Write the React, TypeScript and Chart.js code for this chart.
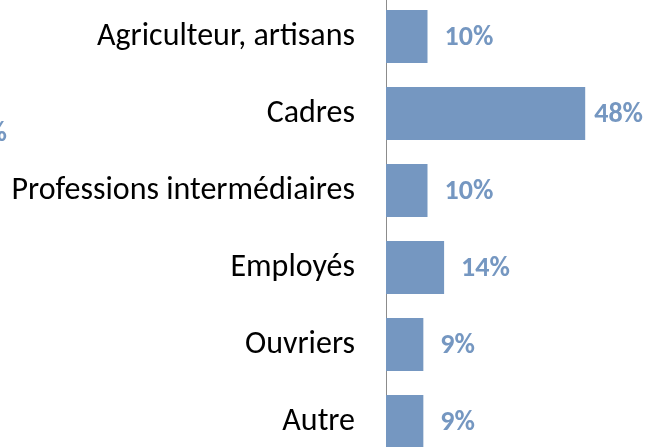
import React, { useEffect, useRef } from "react";
import { Chart, registerables } from "chart.js";

Chart.register(...registerables);

const categories = [
  "Agriculteur, artisans",
  "Cadres",
  "Professions intermédiaires",
  "Employés",
  "Ouvriers",
  "Autre",
];
const values = [10, 48, 10, 14, 9, 9];
const valueLabels = ["10%", "48%", "10%", "14%", "9%", "9%"];

const BAR_COLOR = "#7597c1";
const LABEL_COLOR = "#7597c1";

function hasFont(name: string): boolean {
  const c = document.createElement("canvas").getContext("2d")!;
  const s = "Professions intermédiaires 48%";
  c.font = "100px monospace";
  const a = c.measureText(s).width;
  c.font = `100px "${name}", monospace`;
  const b = c.measureText(s).width;
  return Math.abs(a - b) > 0.5;
}

export default function App() {
  const ref = useRef<HTMLCanvasElement>(null);
  useEffect(() => {
    const carlito = hasFont("Carlito");
    const family = carlito ? "Carlito" : "Liberation Sans";
    const tickSize = carlito ? 32 : 29.5;
    const labelFont = carlito ? 'bold 28px "Carlito"' : 'bold 24.2px "Liberation Sans"';

    const valueLabelPlugin = {
      id: "valueLabels",
      afterDatasetsDraw(chart: any) {
        const { ctx } = chart;
        const meta = chart.getDatasetMeta(0);
        const xScale = chart.scales.x;
        ctx.save();
        ctx.font = labelFont;
        ctx.fillStyle = LABEL_COLOR;
        ctx.textBaseline = "middle";
        ctx.textAlign = "left";
        const limit = chart.width - 6;
        meta.data.forEach((bar: any, i: number) => {
          const text = valueLabels[i];
          const w = ctx.measureText(text).width;
          let x = xScale.getPixelForValue(values[i]) + 17;
          if (x + w > limit) x = limit - w;
          ctx.fillText(text, x, bar.y + 1);
        });
        // fragment of a neighbouring chart's label, cut off at the left edge
        ctx.textAlign = "right";
        ctx.fillText("%", 7, meta.data[1].y + 20);
        ctx.restore();
      },
    };

    const chart = new Chart(ref.current!, {
      type: "bar",
      data: {
        labels: categories,
        datasets: [
          {
            data: values,
            backgroundColor: BAR_COLOR,
            borderWidth: 0,
            barPercentage: 0.688,
            categoryPercentage: 1,
          },
        ],
      },
      options: {
        indexAxis: "y",
        responsive: true,
        maintainAspectRatio: false,
        devicePixelRatio: 1,
        animation: false,
        layout: { padding: { left: 0, right: 14, top: 0, bottom: 0 } },
        plugins: {
          legend: { display: false },
          title: { display: false },
          tooltip: { enabled: false },
        },
        scales: {
          x: {
            display: false,
            min: 0,
            max: 60,
          },
          y: {
            grid: { display: false, drawTicks: false },
            border: { display: true, color: "#8c8c8c", width: 1 },
            ticks: {
              color: "#000000",
              padding: 31,
              font: { family: family, size: tickSize },
            },
            afterFit(scale: any) {
              scale.width = 386;
              scale.paddingTop = 0;
              scale.paddingBottom = 0;
            },
          },
        },
      },
      plugins: [valueLabelPlugin],
    });
    return () => chart.destroy();
  }, []);
  return (
    <div
      style={{
        position: "fixed",
        left: 0,
        top: 0,
        width: 649,
        height: 447,
        overflow: "hidden",
        background: "#ffffff",
      }}
    >
      <div style={{ position: "absolute", left: 0, top: -2, width: 649, height: 462 }}>
        <canvas ref={ref} />
      </div>
    </div>
  );
}
